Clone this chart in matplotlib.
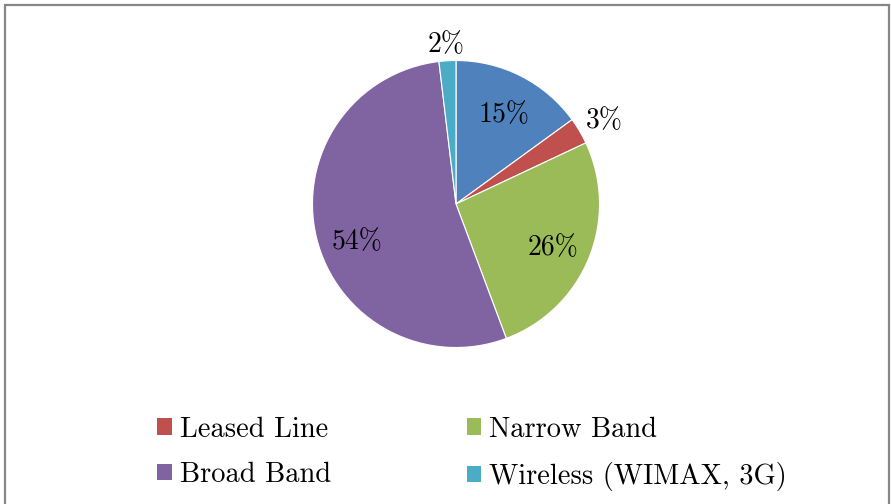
import numpy as np
import matplotlib
matplotlib.use("Agg")
import matplotlib.pyplot as plt
from matplotlib.patches import Rectangle, Patch

# slice data, clockwise from 12 o'clock
categories = ["Dial Up", "Leased Line", "Narrow Band", "Broad Band", "Wireless (WIMAX, 3G)"]
shares = [15.0, 3.0, 26.3, 53.8, 1.9]
colors = ["#4F81BD", "#C0504D", "#9BBB59", "#8064A2", "#4BACC6"]
legend_order = [1, 3, 2, 4]  # matplotlib fills legend column-wise

plt.rcParams['font.family'] = ['cmr10', 'DejaVu Serif']
plt.rcParams['axes.unicode_minus'] = False

W, H = 891, 504
fig = plt.figure(figsize=(W / 100, H / 100), dpi=100)

# chart border (bottom edge runs off the picture)
fig.patches.append(Rectangle((5 / W, -0.1), 884 / W, 1.1 - 5 / H, transform=fig.transFigure,
                             fill=False, edgecolor="#868686", linewidth=1.6))

cx, cy, r = 456, 204, 143.5
ax = fig.add_axes([(cx - r) / W, (H - cy - r) / H, 2 * r / W, 2 * r / H])
wedges, _ = ax.pie(shares, colors=colors, startangle=90, counterclock=False,
                   wedgeprops=dict(edgecolor="white", linewidth=0.8))
ax.set_xlim(-1, 1)
ax.set_ylim(-1, 1)
ax.set_aspect("equal")
ax.axis("off")

for w, val in zip(wedges, shares):
    mid = (w.theta1 + w.theta2) / 2
    if val > 50:
        mid += 5
    mid = np.deg2rad(mid)
    dist = 0.73 if val > 5 else (1.2 if val > 2.5 else 1.14)
    ax.text(dist * np.cos(mid), dist * np.sin(mid) - 0.03, "%d%%" % round(val),
            ha="center", va="center", fontsize=20, color="black")

handles = [Patch(facecolor=colors[i], edgecolor="none") for i in legend_order]
labels = [categories[i] for i in legend_order]
fig.legend(handles, labels, loc="upper left", bbox_to_anchor=(146 / W, 1 - 405 / H),
           ncol=2, frameon=False, fontsize=20.5, handlelength=0.5, handleheight=0.5,
           handletextpad=0.3, columnspacing=4.75, labelspacing=0.68, borderaxespad=0)

fig.savefig("out.png", dpi=100)
